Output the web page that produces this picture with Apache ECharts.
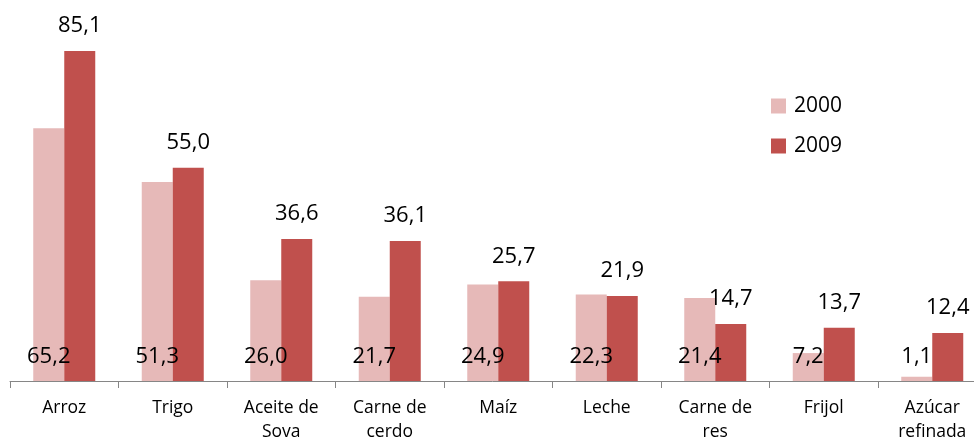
<!DOCTYPE html>
<html>
<head>
<meta charset="utf-8">
<script src="https://cdn.jsdelivr.net/npm/echarts@6/dist/echarts.min.js"></script>
<style>
html,body{margin:0;padding:0;background:#fff;}
#chart{width:974px;height:441px;}
</style>
</head>
<body>
<div id="chart"></div>
<script>
const categories = ['Arroz', 'Trigo', 'Aceite de\nSova', 'Carne de\ncerdo', 'Maíz', 'Leche', 'Carne de\nres', 'Frijol', 'Azúcar\nrefinada'];
const seriesNames = ['2000', '2009'];
const values2000 = [65.2, 51.3, 26.0, 21.7, 24.9, 22.3, 21.4, 7.2, 1.1];
const values2009 = [85.1, 55.0, 36.6, 36.1, 25.7, 21.9, 14.7, 13.7, 12.4];

const FONT = '"Open Sans", "Liberation Sans", sans-serif';
const fmt = p => p.value.toFixed(1).replace('.', ',');

const chart = echarts.init(document.getElementById('chart'), null, {renderer: 'canvas'});
chart.setOption({
  animation: false,
  backgroundColor: '#ffffff',
  textStyle: {fontFamily: FONT},
  grid: {left: 10, top: 32, height: 349, right: -12.5, containLabel: false, outerBoundsMode: 'none'},
  legend: {
    orient: 'vertical',
    left: 771,
    top: 94,
    padding: 0,
    itemWidth: 15,
    itemHeight: 15,
    itemGap: 16,
    icon: 'rect',
    data: seriesNames,
    textStyle: {fontFamily: FONT, fontSize: 21, color: '#000', lineHeight: 24, padding: [0, 0, 0, 3]}
  },
  xAxis: {
    type: 'category',
    data: categories,
    boundaryGap: true,
    axisLine: {show: true, lineStyle: {color: '#868686', width: 1}},
    axisTick: {show: true, length: 7, lineStyle: {color: '#868686'}},
    axisLabel: {
      interval: 0,
      margin: 15,
      fontFamily: FONT,
      fontSize: 17.5,
      lineHeight: 24,
      color: '#000'
    }
  },
  yAxis: {
    type: 'value',
    min: 0,
    max: 90,
    show: false,
    splitLine: {show: false}
  },
  series: [
    {
      name: seriesNames[0],
      type: 'bar',
      data: values2000,
      barWidth: 31,
      barGap: '0%',
      itemStyle: {color: '#E6B9B8'},
      label: {
        show: true,
        position: 'insideBottom',
        distance: 13,
        formatter: fmt,
        fontFamily: FONT,
        fontSize: 22,
        color: '#000'
      }
    },
    {
      name: seriesNames[1],
      type: 'bar',
      data: values2009,
      barWidth: 31,
      barGap: '0%',
      itemStyle: {color: '#C0504D'},
      label: {
        show: true,
        position: 'top',
        distance: 14,
        formatter: fmt,
        fontFamily: FONT,
        fontSize: 22,
        color: '#000'
      }
    }
  ]
});
</script>
</body>
</html>
